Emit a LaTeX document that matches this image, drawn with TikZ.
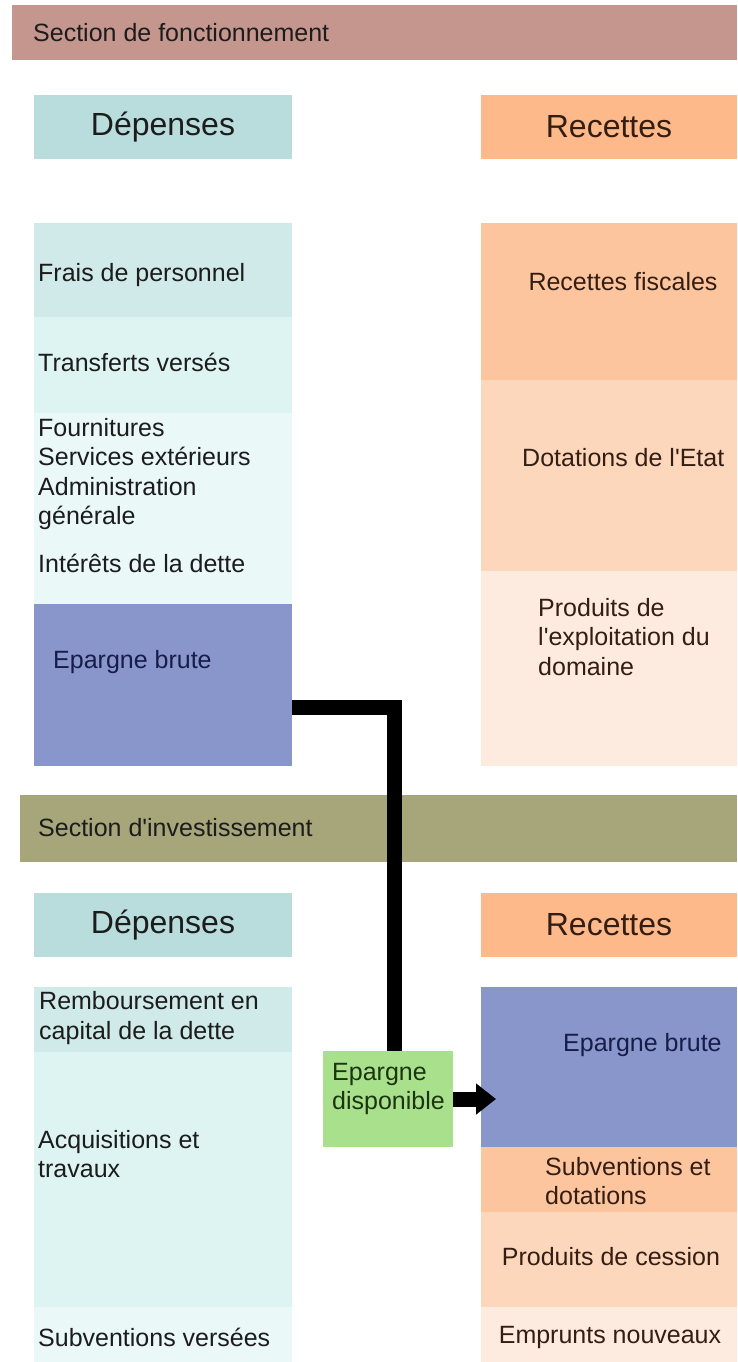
\documentclass[tikz,border=0pt]{standalone}
\usepackage{fontspec}
\setmainfont{Liberation Sans}
\usetikzlibrary{positioning}
\usetikzlibrary{calc}
\usetikzlibrary{arrows.meta}

\definecolor{barfonct}{RGB}{196,150,142}
\definecolor{barinvest}{RGB}{166,166,122}
\definecolor{dephead}{RGB}{185,220,220}
\definecolor{rechead}{RGB}{253,185,137}
\definecolor{depA}{RGB}{207,234,232}
\definecolor{depB}{RGB}{222,244,243}
\definecolor{depC}{RGB}{234,248,248}
\definecolor{recA}{RGB}{252,197,158}
\definecolor{recB}{RGB}{253,215,188}
\definecolor{recC}{RGB}{254,235,223}
\definecolor{epargne}{RGB}{136,150,204}
\definecolor{dispo}{RGB}{168,224,140}
\definecolor{inkgray}{RGB}{28,28,28}
\definecolor{inknavy}{RGB}{24,28,72}
\definecolor{inkbrown}{RGB}{52,30,20}
\definecolor{inkgreen}{RGB}{28,52,16}

\tikzset{
  cell/.style={anchor=north west, inner sep=0pt, outer sep=0pt, minimum width=258pt},
  lbl/.style={anchor=west, inner sep=0pt, align=left, text=inkgray,
    font=\fontsize{25}{29.5}\selectfont},
  head/.style={font=\fontsize{32}{38}\selectfont, text=inkgray},
  link/.style={line width=15pt, line join=miter, draw=black},
}

\begin{document}
\begin{tikzpicture}[x=1pt,y=-1pt]
\useasboundingbox[fill=white] (0,0) rectangle (737,1362);

% section de fonctionnement
\node[cell, fill=barfonct, minimum width=725pt, minimum height=55pt] (fonct) at (12,5) {};
\node[lbl] at (33,33) {Section de fonctionnement};
\node[cell, head, fill=dephead, minimum height=64pt] (depF) at (34,95) {Dépenses};
\node[cell, head, fill=rechead, minimum width=256pt, minimum height=64pt, text=inkbrown] (recF) at (481,95) {Recettes};

\node[cell, fill=depA, minimum height=94pt] (frais) at (34,223) {};
\node[cell, fill=depB, minimum height=96pt] (transf) at (34,317) {};
\node[cell, fill=depC, minimum height=127pt] (fourn) at (34,413) {};
\node[cell, fill=depC, minimum height=64pt] (inter) at (34,540) {};
\node[cell, fill=epargne, minimum height=162pt] (epL) at (34,604) {};
\node[lbl] at (38,275) {Frais de personnel};
\node[lbl] at (38,362) {Transferts versés};
\node[lbl] at (38,474) {Fournitures\\Services extérieurs\\Administration\\générale};
\node[lbl] at (38,563) {Intérêts de la dette};
\node[lbl, text=inknavy] at (53,662) {Epargne brute};

\node[cell, fill=recA, minimum width=256pt, minimum height=157pt] (fisc) at (481,223) {};
\node[cell, fill=recB, minimum width=256pt, minimum height=191pt] (dotat) at (481,380) {};
\node[cell, fill=recC, minimum width=256pt, minimum height=195pt] (expl) at (481,571) {};
\node[lbl, text=inkbrown, anchor=center] at (623,282) {Recettes fiscales};
\node[lbl, text=inkbrown] at (522,458) {Dotations de l\textquotesingle Etat};
\node[lbl, text=inkbrown] at (538,637) {Produits de\\l\textquotesingle exploitation du\\domaine};

% section d'investissement
\node[cell, fill=barinvest, minimum width=717pt, minimum height=67pt] (invest) at (20,795) {};
\node[lbl] at (38,828) {Section d\textquotesingle investissement};
\node[cell, head, fill=dephead, minimum height=64pt] (depI) at (34,893) {Dépenses};
\node[cell, head, fill=rechead, minimum width=256pt, minimum height=64pt, text=inkbrown] (recI) at (481,893) {Recettes};

\node[cell, fill=depA, minimum height=65pt] (remb) at (34,987) {};
\node[cell, fill=depB, minimum height=255pt] (acq) at (34,1052) {};
\node[cell, fill=depC, minimum height=55pt] (subv) at (34,1307) {};
\node[lbl] at (39,1018) {Remboursement en\\capital de la dette};
\node[lbl] at (38,1154) {Acquisitions et\\travaux};
\node[lbl] at (38,1337) {Subventions versées};

\node[cell, fill=epargne, minimum width=256pt, minimum height=160pt] (epR) at (481,987) {};
\node[cell, fill=recA, minimum width=256pt, minimum height=65pt] (subvdot) at (481,1147) {};
\node[cell, fill=recB, minimum width=256pt, minimum height=95pt] (cess) at (481,1212) {};
\node[cell, fill=recC, minimum width=256pt, minimum height=55pt] (empr) at (481,1307) {};
\node[lbl, text=inknavy] at (563,1045) {Epargne brute};
\node[lbl, text=inkbrown] at (545,1181) {Subventions et\\dotations};
\node[lbl, text=inkbrown, anchor=center] at (611,1257) {Produits de cession};
\node[lbl, text=inkbrown, anchor=center] at (610,1337) {Emprunts nouveaux};

\node[cell, fill=dispo, minimum width=130pt, minimum height=96pt] (disp) at (323,1051) {};
\node[lbl, text=inkgreen] at (332,1089) {Epargne\\disponible};

% epargne brute -> epargne disponible -> epargne brute
\draw[link] ([yshift=-22.5pt]epL.east) -| ([xshift=6pt]disp.north);
\draw[link, -{Triangle[width=30pt,length=20pt]}, shorten >=-15pt] (disp.east) -- (disp.east -| epR.west);
\end{tikzpicture}
\end{document}
